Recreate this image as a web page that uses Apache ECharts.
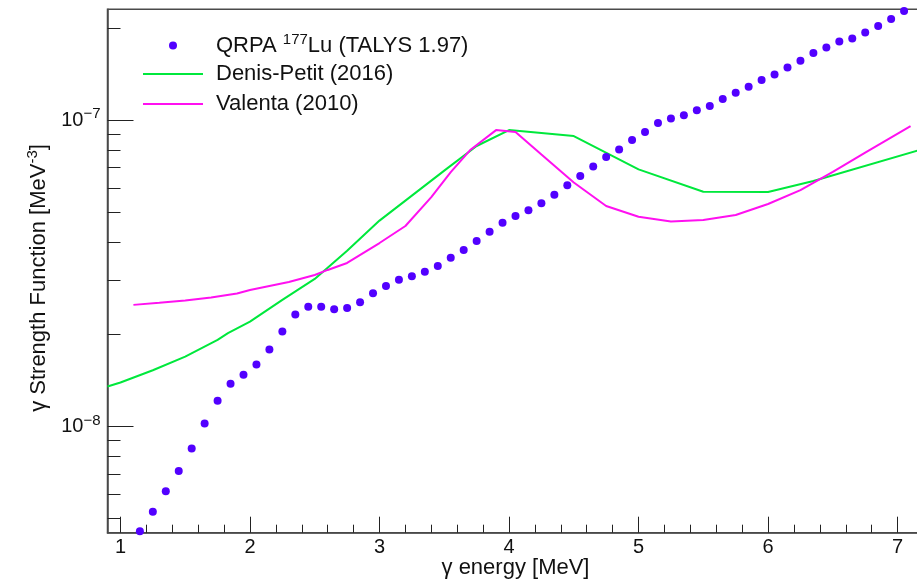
<!DOCTYPE html>
<html><head><meta charset="utf-8">
<script src="https://cdn.jsdelivr.net/npm/echarts@6/dist/echarts.min.js"></script>
<style>html,body{margin:0;padding:0;background:#fff}#c{width:917px;height:580px}</style>
</head><body><div id="c"></div>
<script>
const qrpaEnergy = [1.15,1.25,1.35,1.45,1.55,1.65,1.75,1.85,1.95,2.05,2.15,2.25,2.35,2.45,2.55,2.65,2.75,2.85,2.95,3.05,
  3.15,3.25,3.35,3.45,3.55,3.65,3.75,3.85,3.95,4.05,4.15,4.25,4.35,4.45,4.55,4.65,4.75,4.85,4.95,5.05,
  5.15,5.25,5.35,5.45,5.55,5.65,5.75,5.85,5.95,6.05,6.15,6.25,6.35,6.45,6.55,6.65,6.75,6.85,6.95,7.05];
const qrpaStrength = [4.55e-9,5.27e-9,6.14e-9,7.15e-9,8.48e-9,1.023e-8,1.213e-8,1.378e-8,1.474e-8,1.593e-8,
  1.783e-8,2.040e-8,2.318e-8,2.461e-8,2.461e-8,2.414e-8,2.438e-8,2.546e-8,2.723e-8,2.876e-8,
  3.015e-8,3.093e-8,3.202e-8,3.342e-8,3.556e-8,3.767e-8,4.031e-8,4.320e-8,4.624e-8,4.864e-8,
  5.077e-8,5.351e-8,5.708e-8,6.125e-8,6.568e-8,7.063e-8,7.575e-8,8.025e-8,8.605e-8,9.139e-8,
  9.777e-8,1.013e-7,1.038e-7,1.076e-7,1.111e-7,1.171e-7,1.228e-7,1.284e-7,1.353e-7,1.409e-7,
  1.485e-7,1.561e-7,1.657e-7,1.726e-7,1.805e-7,1.846e-7,1.931e-7,2.030e-7,2.140e-7,2.272e-7];
const denisEnergy = [0.9,1.0,1.25,1.5,1.75,1.83,2.0,2.25,2.5,2.75,3.0,3.25,3.5,3.75,4.0,4.5,5.0,5.5,6.0,6.35,7.2];
const denisStrength = [1.350e-8,1.392e-8,1.526e-8,1.691e-8,1.917e-8,2.016e-8,2.199e-8,2.589e-8,3.031e-8,3.748e-8,
  4.699e-8,5.670e-8,6.840e-8,8.233e-8,9.277e-8,8.867e-8,6.906e-8,5.835e-8,5.822e-8,6.327e-8,8.056e-8];
const valentaEnergy = [1.1,1.3,1.5,1.7,1.9,2.0,2.3,2.5,2.6,2.75,3.0,3.2,3.4,3.55,3.7,3.9,4.05,4.25,4.5,4.75,
  5.0,5.25,5.5,5.75,6.0,6.25,6.5,6.75,7.1];
const valentaStrength = [2.494e-8,2.532e-8,2.578e-8,2.637e-8,2.717e-8,2.790e-8,2.962e-8,3.123e-8,3.243e-8,3.418e-8,
  3.97e-8,4.512e-8,5.609e-8,6.767e-8,7.985e-8,9.277e-8,9.139e-8,7.718e-8,6.255e-8,5.243e-8,
  4.838e-8,4.67e-8,4.72e-8,4.901e-8,5.322e-8,5.911e-8,6.778e-8,7.836e-8,9.559e-8];
const xTickValues = [1,2,3,4,5,6,7];
const xMinorTickValues = [1.2,1.4,1.6,1.8,2.2,2.4,2.6,2.8,3.2,3.4,3.6,3.8,4.2,4.4,4.6,4.8,5.2,5.4,5.6,5.8,6.2,6.4,6.6,6.8,7.2];
const yTickValues = [1e-8,1e-7];
const yMinorTickValues = [5e-9,6e-9,7e-9,8e-9,9e-9,2e-8,3e-8,4e-8,5e-8,6e-8,7e-8,8e-8,9e-8,2e-7];
const seriesNames = ['QRPA 177Lu (TALYS 1.97)','Denis-Petit (2016)','Valenta (2010)'];
const legendLabels = {'QRPA 177Lu (TALYS 1.97)':'QRPA {sup|177}Lu (TALYS 1.97)'};

const FONT = "'Liberation Sans', Arial, sans-serif";
const zip = (a,b) => a.map((v,i)=>[v,b[i]]);

const chart = echarts.init(document.getElementById('c'), null, {renderer:'canvas'});
const X_MIN = 0.9, X_MAX = 7.2, Y_MIN = 4.5e-9, Y_MAX = 2.3e-7;
const axisLineStyle = {color:'#4a4a4a', width:1.5};

function mkLegend(name, left, top, isLine) {
  return {
    data:[isLine ? {name:name, icon:'rect'} : {name:name, icon:'circle'}],
    left:left, top:top, padding:0, orient:'vertical',
    itemWidth: isLine ? 60 : 8, itemHeight: isLine ? 2 : 8, itemGap:0, selectedMode:false,
    formatter: n => legendLabels[n] || n,
    textStyle:{fontFamily:FONT, fontSize:22, color:'#111', lineHeight:26, padding:[0,0,0,isLine ? 8 : 34],
      rich:{sup:{fontFamily:FONT, fontSize:15, lineHeight:14, padding:[0,0,12,0], color:'#111'}}}
  };
}

const option = {
  animation:false,
  backgroundColor:'#fff',
  grid:{left:107.5, top:9.3, width:816, height:523.4, show:true, borderColor:'#4a4a4a', borderWidth:1.5,
        backgroundColor:'transparent', containLabel:false, outerBoundsMode:'none'},
  legend:[mkLegend(seriesNames[0],169,32,false), mkLegend(seriesNames[1],143,61,true), mkLegend(seriesNames[2],143,91,true)],
  xAxis:[{
    type:'value', min:X_MIN, max:X_MAX, gridIndex:0,
    axisLine:{show:true, onZero:false, lineStyle:axisLineStyle},
    axisTick:{show:true, inside:true, length:16, customValues:xTickValues, lineStyle:{color:'#222', width:1}},
    axisLabel:{show:true, customValues:xTickValues, margin:5, fontFamily:FONT, fontSize:20, color:'#111',
      formatter: v => String(v)},
    splitLine:{show:false},
    name:'γ energy [MeV]', nameLocation:'middle', nameGap:24, nameMoveOverlap:false,
    nameTextStyle:{fontFamily:FONT, fontSize:22, color:'#111'}
  },{
    type:'value', min:X_MIN, max:X_MAX, gridIndex:0, position:'bottom',
    axisLine:{show:false, onZero:false},
    axisTick:{show:true, inside:true, length:8, customValues:xMinorTickValues, lineStyle:{color:'#222', width:1}},
    axisLabel:{show:false}, splitLine:{show:false}
  }],
  yAxis:[{
    type:'log', logBase:10, min:Y_MIN, max:Y_MAX, gridIndex:0,
    axisLine:{show:true, onZero:false, lineStyle:axisLineStyle},
    axisTick:{show:true, inside:true, length:26, customValues:yTickValues, lineStyle:{color:'#222', width:1}},
    axisLabel:{show:true, customValues:yTickValues, margin:7, fontFamily:FONT, fontSize:20, color:'#111',
      formatter: v => { const e = Math.round(Math.log10(v)); return '10{sup|' + (e<0?'−':'') + Math.abs(e) + '}'; },
      rich:{sup:{fontFamily:FONT, fontSize:15, lineHeight:15, padding:[0,0,12,0], color:'#111'}}},
    splitLine:{show:false}, minorTick:{show:false},
    name:'γ Strength Function [MeV{sup|-3}]', nameLocation:'middle', nameGap:58, nameRotate:90, nameMoveOverlap:false,
    nameTextStyle:{fontFamily:FONT, fontSize:22, color:'#111', padding:[0,14,0,0],
      rich:{sup:{fontFamily:FONT, fontSize:15, lineHeight:15, padding:[0,0,12,0], color:'#111'}}}
  },{
    type:'log', logBase:10, min:Y_MIN, max:Y_MAX, gridIndex:0, position:'left',
    axisLine:{show:false, onZero:false},
    axisTick:{show:true, inside:true, length:13, customValues:yMinorTickValues, lineStyle:{color:'#222', width:1}},
    axisLabel:{show:false}, splitLine:{show:false}
  }],
  series:[
    {name:seriesNames[0], type:'scatter', xAxisIndex:0, yAxisIndex:0, data:zip(qrpaEnergy,qrpaStrength),
     symbol:'circle', symbolSize:8, itemStyle:{color:'#5200ff', opacity:1}, z:3},
    {name:seriesNames[1], type:'line', xAxisIndex:0, yAxisIndex:0, data:zip(denisEnergy,denisStrength),
     showSymbol:false, symbol:'none', lineStyle:{color:'#00e83c', width:2}, itemStyle:{color:'#00e83c'}, clip:true, z:2},
    {name:seriesNames[2], type:'line', xAxisIndex:0, yAxisIndex:0, data:zip(valentaEnergy,valentaStrength),
     showSymbol:false, symbol:'none', lineStyle:{color:'#ff10f0', width:2}, itemStyle:{color:'#ff10f0'}, clip:true, z:2}
  ]
};
chart.setOption(option);
</script></body></html>
